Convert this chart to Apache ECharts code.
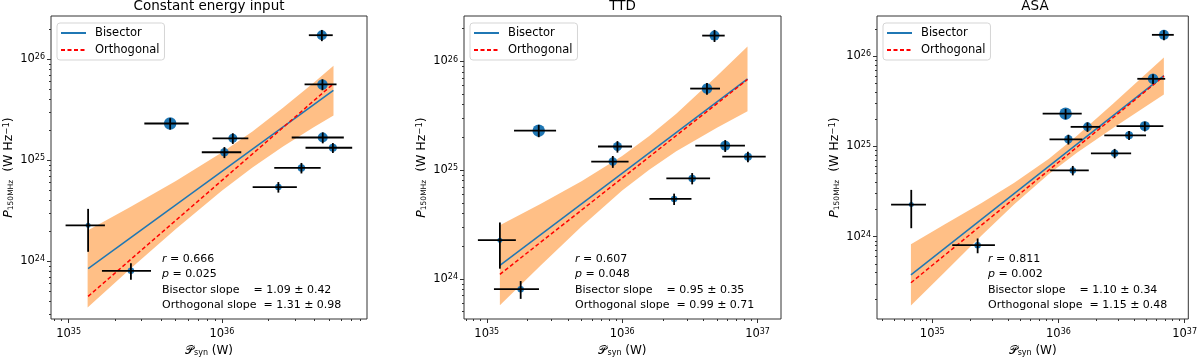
<!DOCTYPE html>
<html>
<head>
<meta charset="utf-8">
<script src="https://cdn.jsdelivr.net/npm/echarts@6/dist/echarts.min.js"></script>
<style>
  html, body { margin: 0; background: #fff; }
  #chart { width: 1200px; height: 362px; }
</style>
</head>
<body>
<div id="chart"></div>
<script>
// radio power at 150 MHz (W/Hz) - same sources in every panel
const p150 = [1.73e26, 5.63e25, 2.31e25, 1.65e25, 1.20e25, 1.68e25, 1.33e25, 8.4e24, 5.43e24, 2.27e24, 8.04e23]
const p150Err = [2.2e25, 7e24, 3e24, 2e24, 1.5e24, 2.1e24, 1.5e24, 1e24, 6.5e23, 1.03e24, 1.5e23]
const markerSize = [10, 10.5, 12.5, 9, 8.5, 10, 8, 7.5, 6.5, 5, 6.5]

// synchrotron power (W) per model
const psynCEI = [4.50e36, 4.54e36, 4.60e35, 1.18e36, 1.04e36, 4.56e36, 5.31e36, 3.31e36, 2.34e36, 1.34e35, 2.55e35]
const psynCEIErr = [8e35, 1.07e36, 1.48e35, 3.1e35, 3.0e35, 1.7e36, 1.79e36, 1.11e36, 7.5e35, 3.85e34, 9e34]
const psynTTD = [4.81e36, 4.23e36, 2.42e35, 9.23e35, 8.53e35, 5.77e36, 8.49e36, 3.29e36, 2.42e36, 1.25e35, 1.78e35]
const psynTTDErr = [9.1e35, 1.05e36, 8.3e34, 2.6e35, 2.62e35, 2.3e36, 3.0e36, 1.17e36, 8.3e35, 3.9e34, 6.5e34]
const psynASA = [6.86e36, 5.62e36, 1.14e36, 1.70e36, 1.20e36, 4.84e36, 3.63e36, 2.79e36, 1.30e36, 6.82e34, 2.29e35]
const psynASAErr = [1.35e36, 1.4e36, 3.9e35, 4.5e35, 3.5e35, 1.95e36, 1.32e36, 9.8e35, 4.4e35, 2.1e34, 8.5e34]

// fitted lines (end points)
const fitXCEI = [1.34e35, 5.35e36]
const bisectorCEI = [8.47e23, 4.91e25]
const orthogonalCEI = [4.49e23, 5.71e25]
const fitXTTD = [1.25e35, 8.43e36]
const bisectorTTD = [1.33e24, 6.92e25]
const orthogonalTTD = [1.10e24, 6.82e25]
const fitXASA = [6.78e34, 6.86e36]
const bisectorASA = [3.77e23, 6.10e25]
const orthogonalASA = [3.08e23, 6.03e25]

// confidence band edges
const bandXCEI = [1.33e35, 2.51e35, 5.01e35, 1.0e36, 1.585e36, 2.51e36, 3.98e36, 5.36e36]
const bandUpCEI = [2.02e24, 3.42e24, 6.22e24, 1.19e25, 1.93e25, 3.30e25, 5.86e25, 8.63e25]
const bandLoCEI = [3.49e23, 8.32e23, 2.09e24, 4.99e24, 8.47e24, 1.37e25, 2.12e25, 2.77e25]
const bandXTTD = [1.25e35, 2.51e35, 5.01e35, 1.0e36, 1.585e36, 2.51e36, 5.01e36, 8.43e36]
const bandUpTTD = [3.12e24, 4.91e24, 7.91e24, 1.35e25, 2.06e25, 3.31e25, 7.33e25, 1.37e26]
const bandLoTTD = [5.70e23, 1.33e24, 3.03e24, 6.49e24, 1.01e25, 1.49e25, 2.46e25, 3.49e25]
const bandXASA = [6.78e34, 1.26e35, 2.46e35, 4.47e35, 8.41e35, 1.41e36, 2.71e36, 6.85e36]
const bandUpASA = [8.24e23, 1.37e24, 2.36e24, 3.95e24, 7.31e24, 1.32e25, 2.97e25, 9.70e25]
const bandLoASA = [1.72e23, 4.05e23, 1.03e24, 2.28e24, 4.94e24, 8.55e24, 1.60e25, 3.78e25]

const titles = ['Constant energy input', 'TTD', 'ASA']
const statR = ['0.666', '0.607', '0.811']
const statP = ['0.025', '0.048', '0.002']
const bisectorSlope = ['1.09 ± 0.42', '0.95 ± 0.35', '1.10 ± 0.34']
const orthogonalSlope = ['1.31 ± 0.98', '0.99 ± 0.71', '1.15 ± 0.48']

// axis ranges and tick values
const xRange = [[7.67e34, 8.87e36], [6.79e34, 1.49e37], [3.65e34, 1.07e37]]
const yRange = [[2.68e23, 2.68e26], [4.27e23, 2.62e26], [1.22e23, 2.80e26]]
const decades = [1e23, 1e24, 1e25, 1e26, 1e34, 1e35, 1e36, 1e37]
const majorTicks = [1e24, 1e25, 1e26, 1e35, 1e36, 1e37]
const minorSteps = [2, 3, 4, 5, 6, 7, 8, 9]

const minorTicks = []
decades.forEach(d => minorSteps.forEach(k => minorTicks.push(k * d)))

const FONT = 'DejaVu Sans'
const BLUE = '#1f77b4'

const grids = [
  { left: 51, top: 16, width: 316, height: 308 },
  { left: 464, top: 16, width: 317, height: 309 },
  { left: 877, top: 16, width: 316, height: 308 },
]

const panels = [
  { x: psynCEI, xe: psynCEIErr, fx: fitXCEI, bis: bisectorCEI, ort: orthogonalCEI, bx: bandXCEI, bu: bandUpCEI, bl: bandLoCEI },
  { x: psynTTD, xe: psynTTDErr, fx: fitXTTD, bis: bisectorTTD, ort: orthogonalTTD, bx: bandXTTD, bu: bandUpTTD, bl: bandLoTTD },
  { x: psynASA, xe: psynASAErr, fx: fitXASA, bis: bisectorASA, ort: orthogonalASA, bx: bandXASA, bu: bandUpASA, bl: bandLoASA },
]

const tickRich = {
  b: { fontSize: 11.5, fontFamily: FONT, color: '#000' },
  s: { fontSize: 8, fontFamily: FONT, color: '#000', verticalAlign: 'top', lineHeight: 10 },
}
const powLabel = v => '{b|10}{s|' + Math.round(Math.log10(v)) + '}'

const xAxes = []
const yAxes = []
grids.forEach((g, i) => {
  xAxes.push({
    type: 'log', gridIndex: i, position: 'bottom', min: xRange[i][0], max: xRange[i][1],
    name: '{p|𝒫}{sub|syn}{n| (W)}', nameLocation: 'middle', nameGap: 26,
    nameTextStyle: {
      rich: {
        p: { fontSize: 12, fontFamily: FONT, color: '#000' },
        sub: { fontSize: 8, fontFamily: FONT, color: '#000', verticalAlign: 'bottom', lineHeight: 10 },
        n: { fontSize: 12, fontFamily: FONT, color: '#000' },
      },
    },
    axisLine: { show: false },
    splitLine: { show: false },
    axisTick: { customValues: majorTicks, length: 4, lineStyle: { color: '#333' } },
    axisLabel: { customValues: majorTicks, formatter: powLabel, rich: tickRich, margin: 9 },
  })
  xAxes.push({
    type: 'log', gridIndex: i, position: 'bottom', min: xRange[i][0], max: xRange[i][1],
    axisLine: { show: false }, splitLine: { show: false }, axisLabel: { show: false },
    axisTick: { customValues: minorTicks, length: 2, lineStyle: { color: '#333' } },
  })
  yAxes.push({
    type: 'log', gridIndex: i, position: 'left', min: yRange[i][0], max: yRange[i][1],
    name: '{i|P}{sub|150MHz}{n|  (W Hz}{sup|−1}{n|)}', nameLocation: 'middle', nameRotate: 90, nameGap: 36,
    nameTextStyle: {
      rich: {
        i: { fontSize: 12.5, fontFamily: FONT, fontStyle: 'italic', color: '#000' },
        sub: { fontSize: 7.5, fontFamily: FONT, color: '#000', verticalAlign: 'bottom', lineHeight: 10 },
        sup: { fontSize: 8.5, fontFamily: FONT, color: '#000', verticalAlign: 'top', lineHeight: 10 },
        n: { fontSize: 12.5, fontFamily: FONT, color: '#000' },
      },
    },
    axisLine: { show: false },
    splitLine: { show: false },
    axisTick: { customValues: majorTicks, length: 4, lineStyle: { color: '#333' } },
    axisLabel: { customValues: majorTicks, formatter: powLabel, rich: tickRich, margin: 6 },
  })
  yAxes.push({
    type: 'log', gridIndex: i, position: 'left', min: yRange[i][0], max: yRange[i][1],
    axisLine: { show: false }, splitLine: { show: false }, axisLabel: { show: false },
    axisTick: { customValues: minorTicks, length: 2, lineStyle: { color: '#333' } },
  })
})

const series = []
panels.forEach((p, i) => {
  const xi = 2 * i
  series.push({
    type: 'custom', xAxisIndex: xi, yAxisIndex: xi, z: 1, silent: true,
    data: p.bx.map((x, k) => [x, p.bu[k], p.bl[k]]),
    encode: { x: 0, y: 1 },
    renderItem: (params, api) => {
      if (params.dataIndex !== 0) return null
      const pts = []
      p.bx.forEach((x, k) => pts.push(api.coord([x, p.bu[k]])))
      for (let k = p.bx.length - 1; k >= 0; k--) pts.push(api.coord([p.bx[k], p.bl[k]]))
      return { type: 'polygon', shape: { points: pts }, style: { fill: 'rgba(255,127,14,0.5)' } }
    },
  })
  series.push({
    name: 'Bisector', type: 'line', xAxisIndex: xi, yAxisIndex: xi, z: 2,
    data: p.fx.map((x, k) => [x, p.bis[k]]),
    symbol: 'none', lineStyle: { color: BLUE, width: 1.5 }, itemStyle: { color: BLUE },
  })
  series.push({
    name: 'Orthogonal', type: 'line', xAxisIndex: xi, yAxisIndex: xi, z: 3,
    data: p.fx.map((x, k) => [x, p.ort[k]]),
    symbol: 'none', lineStyle: { color: 'red', width: 1.5, type: [4, 2.5] }, itemStyle: { color: 'red' },
  })
  series.push({
    type: 'scatter', xAxisIndex: xi, yAxisIndex: xi, z: 4,
    data: p.x.map((x, k) => [x, p150[k]]),
    symbolSize: (v, params) => markerSize[params.dataIndex],
    itemStyle: { color: BLUE, opacity: 1 },
  })
  series.push({
    type: 'custom', xAxisIndex: xi, yAxisIndex: xi, z: 5, silent: true,
    data: p.x.map((x, k) => [x, p150[k], p.xe[k], p150Err[k]]),
    encode: { x: 0, y: 1 },
    renderItem: (params, api) => {
      const x = api.value(0), y = api.value(1), dx = api.value(2), dy = api.value(3)
      const a = api.coord([x - dx, y]), b = api.coord([x + dx, y])
      const c = api.coord([x, y - dy]), d = api.coord([x, y + dy])
      const st = { stroke: '#000', lineWidth: 1.8 }
      return {
        type: 'group',
        children: [
          { type: 'line', shape: { x1: a[0], y1: a[1], x2: b[0], y2: b[1] }, style: st },
          { type: 'line', shape: { x1: c[0], y1: c[1], x2: d[0], y2: d[1] }, style: st },
        ],
      }
    },
  })
})

const legends = grids.map(g => ({
  left: g.left + 6, top: 23, orient: 'vertical',
  data: ['Bisector', 'Orthogonal'],
  itemWidth: 25, itemHeight: 12, itemGap: 5,
  itemStyle: { opacity: 0 },
  textStyle: { fontSize: 11.5, fontFamily: FONT, color: '#000', padding: [0, 0, 0, 4] },
  backgroundColor: 'rgba(255,255,255,0.8)', borderColor: '#d5d5d5', borderWidth: 1, borderRadius: 3,
  padding: [4, 5, 4, 3],
  selectedMode: false,
}))

const graphic = []
const textRich = {
  n: { fontSize: 11, fontFamily: FONT, fill: '#000' },
  i: { fontSize: 11, fontFamily: FONT, fontStyle: 'italic', fill: '#000' },
}
const statLeft = [162, 575, 988]
grids.forEach((g, i) => {
  graphic.push({
    type: 'text', x: g.left + g.width / 2, y: 6,
    style: { text: titles[i], font: '13.5px "DejaVu Sans"', fill: '#000', align: 'center', verticalAlign: 'middle' },
  })
  const lines = [
    '{i|r}{n| = ' + statR[i] + '}',
    '{i|p}{n| = ' + statP[i] + '}',
    '{n|Bisector slope    = ' + bisectorSlope[i] + '}',
    '{n|Orthogonal slope  = ' + orthogonalSlope[i] + '}',
  ]
  lines.forEach((t, k) => {
    graphic.push({
      type: 'text', x: statLeft[i], y: 259 + k * 15.5,
      style: { text: t, rich: textRich, align: 'left', verticalAlign: 'middle' },
    })
  })
})

const chart = echarts.init(document.getElementById('chart'))
chart.setOption({
  animation: false,
  grid: grids.map(g => Object.assign({ show: true, borderColor: '#333', borderWidth: 1, backgroundColor: 'transparent' }, g)),
  xAxis: xAxes,
  yAxis: yAxes,
  legend: legends,
  graphic: graphic,
  series: series,
})
</script>
</body>
</html>
